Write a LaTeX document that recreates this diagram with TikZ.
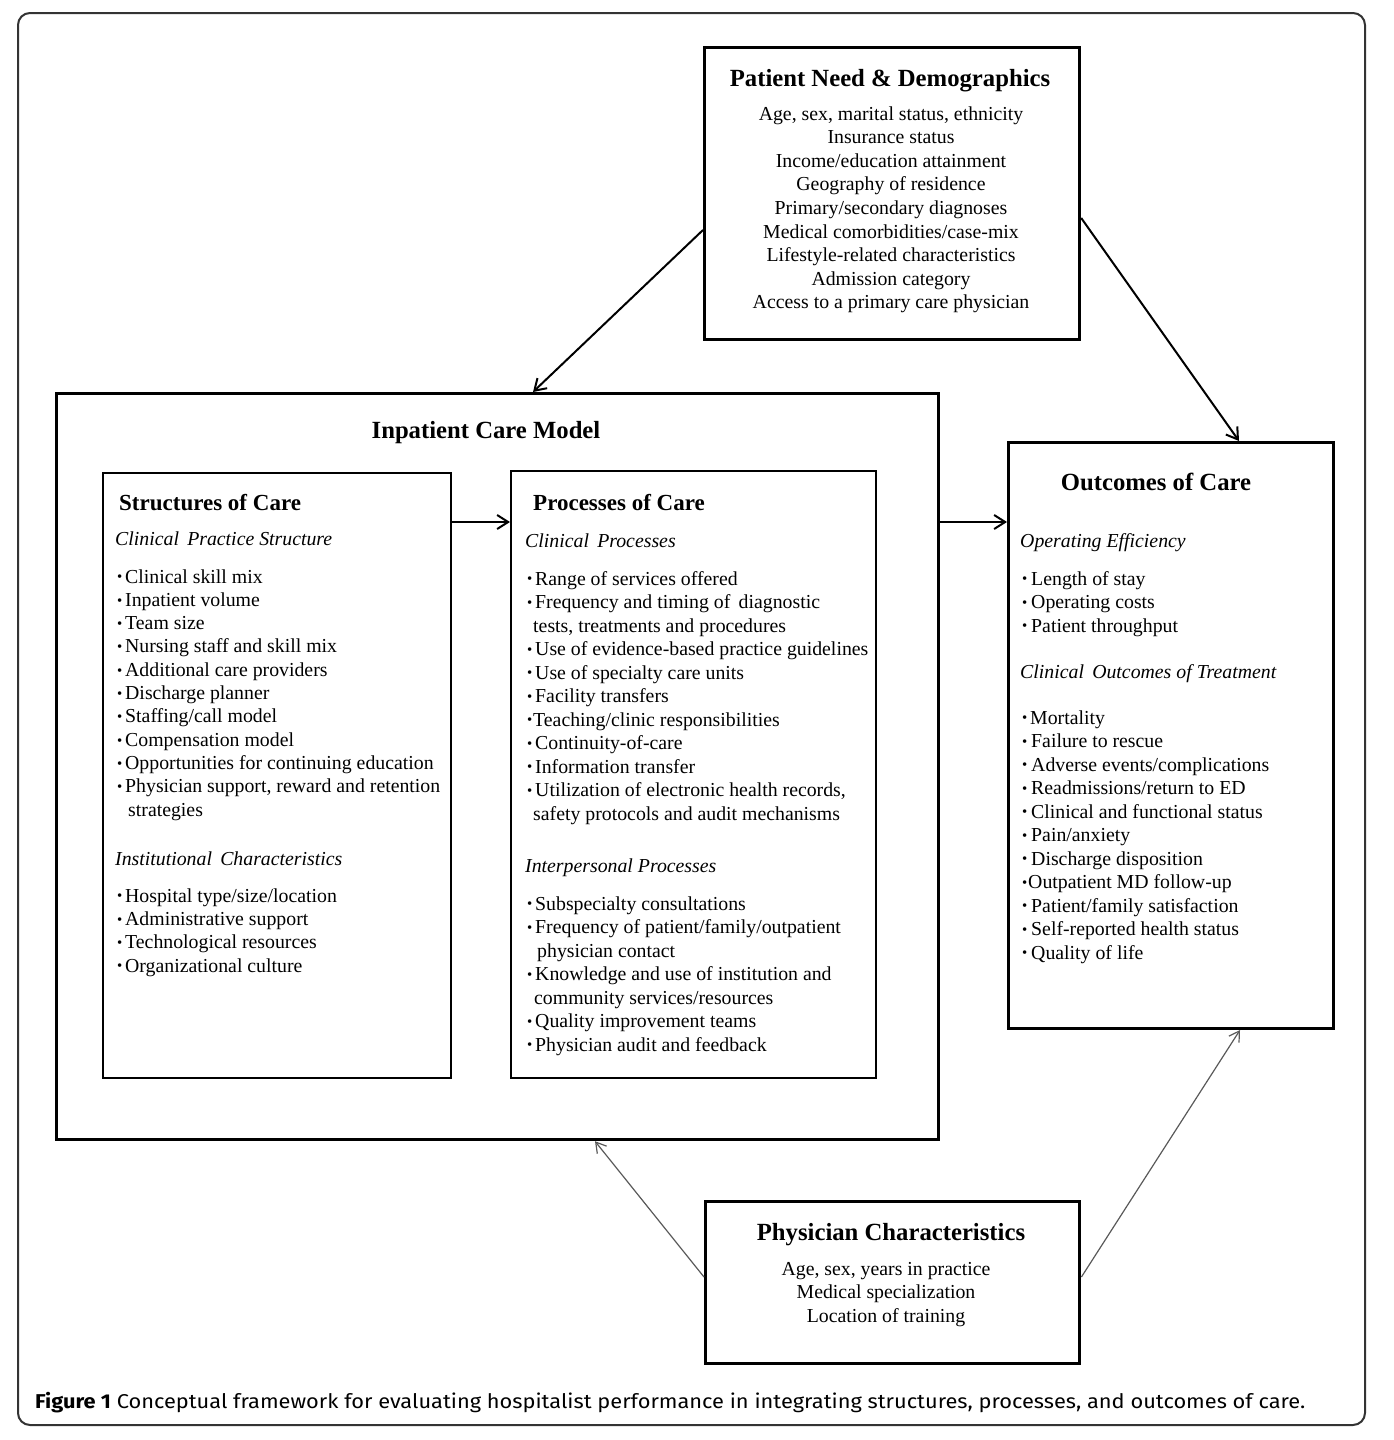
\documentclass[tikz,border=0pt]{standalone}
\usepackage{fontspec}
\setmainfont{Liberation Serif}
\newfontfamily\capfont{Fira Sans}
\usepackage{graphicx}
\usetikzlibrary{arrows.meta,calc}
\tikzset{
 box/.style={draw=black, rectangle, inner sep=0pt, anchor=north west},
 txt/.style={inner sep=0pt, font=\fontsize{19.8}{23.5}\selectfont},
 ttl/.style={inner sep=0pt, font=\fontsize{24.7}{28}\selectfont\bfseries},
 sttl/.style={inner sep=0pt, font=\fontsize{23}{26}\selectfont\bfseries},
 ital/.style={inner sep=0pt, font=\fontsize{19.8}{23.5}\selectfont\itshape},
 arr/.style={line width=2pt, -{Straight Barb[length=11pt,width=14pt]}},
 thinarr/.style={line width=1.2pt, draw=black!65, -{Straight Barb[length=10pt,width=12pt]}},
}
\newcommand\bul[1][8pt]{\makebox[#1][l]{\raisebox{1.2pt}{\scalebox{0.75}{•}}}}
\begin{document}
\begin{tikzpicture}[x=1pt,y=-1pt]
\useasboundingbox (0,0) rectangle (1393,1440);
% outer frame
\draw[line width=2pt, draw=black!80, rounded corners=12pt] (18,13) rectangle (1365,1425);

% boxes
\node[box, line width=3.2pt, minimum width=375pt, minimum height=292pt] (pat) at (703,46) {};
\node[box, line width=3.2pt, minimum width=882pt, minimum height=746pt] (inp) at (55,392) {};
\node[box, line width=2.4pt, minimum width=348pt, minimum height=605pt] (str) at (102,472) {};
\node[box, line width=2.4pt, minimum width=365pt, minimum height=607pt] (pro) at (510,470) {};
\node[box, line width=3pt, minimum width=325pt, minimum height=586pt] (out) at (1007,441) {};
\node[box, line width=3.4pt, minimum width=374pt, minimum height=162pt] (phy) at (704,1200) {};

% Patient need
\node[ttl, anchor=base] (patT) at (890,86) {Patient Need \& Demographics};
\foreach \t [count=\i from 0] in {{Age, sex, marital status, ethnicity},Insurance status,Income/education attainment,Geography of residence,Primary/secondary diagnoses,Medical comorbidities/case-mix,Lifestyle-related characteristics,Admission category,Access to a primary care physician}
  \node[txt, anchor=base] (pl\i) at (891,{120+\i*23.6}) {\t};

% Inpatient care model
\node[ttl, anchor=base] (inpT) at (486,438) {Inpatient Care Model};

% Structures
\node[sttl, anchor=base west] (strT) at (119,510) {Structures of Care};
\node[ital, anchor=base west] (strA) at (115,545) {Clinical\, Practice Structure};
\foreach \t [count=\i from 0] in {\bul Clinical skill mix,\bul Inpatient volume,\bul Team size,\bul Nursing staff and skill mix,\bul Additional care providers,\bul Discharge planner,\bul Staffing/call model,\bul Compensation model,\bul Opportunities for continuing education,{\bul Physician support, reward and retention},\hspace*{11pt}strategies}
  \node[txt, anchor=base west] (sa\i) at (117,{583+\i*23.33}) {\t};
\node[ital, anchor=base west] (strB) at (115,865) {Institutional\, Characteristics};
\foreach \t [count=\i from 0] in {\bul Hospital type/size/location,\bul Administrative support,\bul Technological resources,\bul Organizational culture}
  \node[txt, anchor=base west] (sb\i) at (117,{902+\i*23.33}) {\t};

% Processes
\node[sttl, anchor=base west] (proT) at (533,510) {Processes of Care};
\node[ital, anchor=base west] (proA) at (525,547) {Clinical\, Processes};
\foreach \t [count=\i from 0] in {\bul Range of services offered,\bul Frequency and timing of\, diagnostic,{\hspace*{6pt}tests, treatments and procedures},\bul Use of evidence-based practice guidelines,\bul Use of specialty care units,\bul Facility transfers,\bul[6pt]Teaching/clinic responsibilities,\bul Continuity-of-care,\bul Information transfer,{\bul Utilization of electronic health records,},\hspace*{6pt}safety protocols and audit mechanisms}
  \node[txt, anchor=base west] (pa\i) at (527,{585+\i*23.5}) {\t};
\node[ital, anchor=base west] (proB) at (525,872) {Interpersonal Processes};
\foreach \t [count=\i from 0] in {\bul Subspecialty consultations,\bul Frequency of patient/family/outpatient,\hspace*{10pt}physician contact,\bul Knowledge and use of institution and,\hspace*{7pt}community services/resources,\bul Quality improvement teams,\bul Physician audit and feedback}
  \node[txt, anchor=base west] (pb\i) at (527,{910+\i*23.5}) {\t};

% Outcomes
\node[ttl, anchor=base] (outT) at (1156,490) {Outcomes of Care};
\node[ital, anchor=base west] (outA) at (1020,547) {Operating Efficiency};
\foreach \t [count=\i from 0] in {\bul[9pt]Length of stay,\bul[9pt]Operating costs,\bul[9pt]Patient throughput}
  \node[txt, anchor=base west] (oa\i) at (1022,{585+\i*23.5}) {\t};
\node[ital, anchor=base west] (outB) at (1020,678) {Clinical\, Outcomes of Treatment};
\foreach \t [count=\i from 0] in {\bul Mortality,\bul[9pt]Failure to rescue,\bul[9pt]Adverse events/complications,\bul[9pt]Readmissions/return to ED,\bul[9pt]Clinical and functional status,\bul[9pt]Pain/anxiety,\bul[9pt]Discharge disposition,\bul[6pt]Outpatient MD follow-up,\bul[9pt]Patient/family satisfaction,\bul[9pt]Self-reported health status,\bul[9pt]Quality of life}
  \node[txt, anchor=base west] (ob\i) at (1022,{724+\i*23.5}) {\t};

% Physician
\node[ttl, anchor=base] (phyT) at (891,1240) {Physician Characteristics};
\foreach \t [count=\i from 0] in {{Age, sex, years in practice},Medical specialization,Location of training}
  \node[txt, anchor=base] (yl\i) at (886,{1275+\i*23.5}) {\t};

% connectors
\coordinate (a3) at (0,522);
\draw[arr] ($(pat.north west)+(0,184)$) -- ($(inp.north west)+(478,0)$);
\draw[arr] ($(pat.north east)+(0,172)$) -- ($(out.north west)+(232,0)$);
\draw[arr] (str.east |- a3) -- (pro.west |- a3);
\draw[arr] (inp.east |- a3) -- (out.west |- a3);
\draw[thinarr] ($(phy.north west)+(0,77)$) -- ($(inp.south west)+(540,0)$);
\draw[thinarr] ($(phy.north east)+(0,77)$) -- ($(out.south west)+(233,0)$);

% caption
\node[inner sep=0pt, anchor=base west] (cap) at (35,1408) {\resizebox{1270pt}{\height}{\capfont\fontsize{20}{24}\selectfont\textbf{Figure 1} Conceptual framework for evaluating hospitalist performance in integrating structures, processes, and outcomes of care.}};
\end{tikzpicture}
\end{document}
